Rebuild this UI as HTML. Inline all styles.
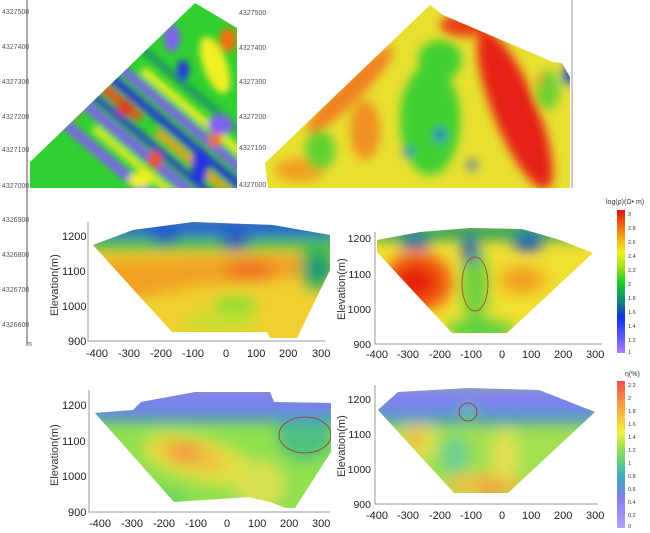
<!DOCTYPE html><html><head><style>body{margin:0;background:#fff}svg{display:block}text{font-family:"Liberation Sans",sans-serif}</style></head><body>
<svg width="650" height="533" viewBox="0 0 650 533">
<defs>
<filter id="b3"><feGaussianBlur stdDeviation="3.5"/></filter>
<filter id="b5"><feGaussianBlur stdDeviation="5"/></filter>
<filter id="b8"><feGaussianBlur stdDeviation="7"/></filter>
<clipPath id="c1"><polygon points="30,162 195,3 237,28 237,188 30,188"/></clipPath>
<clipPath id="c2"><polygon points="265,163 430,5 443,15 553,62 562,63 570,77 570,188 268,188"/></clipPath>
<clipPath id="c3"><polygon points="93,245 133,230 193,222 273,225 330,235 330,270 297,338 270,338 267,332 172,332"/></clipPath>
<clipPath id="c4"><polygon points="377,240 420,232 470,228 522,229 560,240 593,253 507,333 452,333 377,252"/></clipPath>
<clipPath id="c5"><polygon points="95,413 133,410 141,402 195,392 270,392 274,402 331,403 331,452 295,508 286,508 270,502 249,497 174,502"/></clipPath>
<clipPath id="c6"><polygon points="378,410 398,392 469,388 539,390 595,412 508,493 454,493"/></clipPath>
<linearGradient id="g1" x1="0" y1="1" x2="0" y2="0"><stop offset="0" stop-color="#b080ff"/><stop offset=".1" stop-color="#6060ff"/><stop offset=".25" stop-color="#1030e0"/><stop offset=".35" stop-color="#108080"/><stop offset=".5" stop-color="#20d020"/><stop offset=".6" stop-color="#a0e020"/><stop offset=".7" stop-color="#f0f020"/><stop offset=".8" stop-color="#f0b010"/><stop offset=".9" stop-color="#f06010"/><stop offset="1" stop-color="#e01010"/></linearGradient>
<linearGradient id="g2" x1="0" y1="1" x2="0" y2="0"><stop offset="0" stop-color="#b8a0f8"/><stop offset=".2" stop-color="#8080f0"/><stop offset=".35" stop-color="#40a8c0"/><stop offset=".45" stop-color="#60d080"/><stop offset=".55" stop-color="#a0e050"/><stop offset=".65" stop-color="#f0f040"/><stop offset=".8" stop-color="#f8b040"/><stop offset="1" stop-color="#f05050"/></linearGradient>
</defs>
<!-- top left map -->
<g clip-path="url(#c1)"><rect x="0" y="0" width="240" height="190" fill="#30d030"/>
<g filter="url(#b3)">
<g transform="rotate(40 130 100)">
<rect x="-20" y="155" width="300" height="10" fill="#8060f0"/>
<rect x="-20" y="141" width="120" height="9" fill="#f05010"/>
<rect x="120" y="141" width="160" height="7" fill="#f0f020"/>
<rect x="-20" y="127" width="300" height="10" fill="#8060f0"/>
<rect x="-20" y="117" width="300" height="6" fill="#2030e0"/>
<rect x="40" y="103" width="110" height="9" fill="#f05010"/>
<rect x="170" y="103" width="100" height="8" fill="#f0a010"/>
<rect x="-20" y="91" width="300" height="8" fill="#2030e0"/>
<rect x="70" y="77" width="210" height="9" fill="#8060f0"/>
<rect x="120" y="65" width="160" height="8" fill="#f0f020"/>
<rect x="-20" y="50" width="300" height="6" fill="#1a8a70"/>
</g>
<ellipse cx="172" cy="38" rx="8" ry="14" fill="#8060f0"/>
<ellipse cx="183" cy="70" rx="6" ry="10" fill="#2030e0"/>
<ellipse cx="125" cy="108" rx="8" ry="8" fill="#e04010"/>
<ellipse cx="215" cy="65" rx="12" ry="30" transform="rotate(-20 215 65)" fill="#f0f020"/>
<ellipse cx="220" cy="125" rx="12" ry="10" fill="#8060f0"/>
<ellipse cx="155" cy="160" rx="7" ry="9" fill="#f05010"/>
<ellipse cx="200" cy="165" rx="8" ry="18" fill="#2030e0"/>
<ellipse cx="215" cy="140" rx="7" ry="7" fill="#f07010"/>
<ellipse cx="228" cy="40" rx="9" ry="12" fill="#f07010"/>
<ellipse cx="140" cy="180" rx="12" ry="8" fill="#f0f020"/>
</g></g>
<line x1="27" y1="0" x2="27" y2="345" stroke="#555"/>
<g font-size="7" fill="#555"><text x="2" y="14">4327500</text><text x="2" y="49">4327400</text><text x="2" y="84">4327300</text><text x="2" y="119">4327200</text><text x="2" y="152">4327100</text><text x="2" y="188">4327000</text><text x="2" y="222">4326900</text><text x="2" y="257">4326800</text><text x="2" y="292">4326700</text><text x="2" y="327">4326600</text><text x="26" y="346">m</text>
<text x="239" y="15">4327500</text><text x="239" y="50">4327400</text><text x="239" y="84">4327300</text><text x="239" y="119">4327200</text><text x="239" y="150">4327100</text><text x="239" y="187">4327000</text></g>
<!-- top right map -->
<g clip-path="url(#c2)"><rect x="260" y="0" width="320" height="190" fill="#e8e030"/>
<g filter="url(#b5)">
<ellipse cx="350" cy="90" rx="60" ry="12" transform="rotate(-45 350 90)" fill="#f08020"/>
<ellipse cx="365" cy="130" rx="15" ry="30" fill="#f09020"/>
<ellipse cx="300" cy="170" rx="25" ry="12" fill="#f0a020"/>
<ellipse cx="430" cy="120" rx="30" ry="55" fill="#40d030"/>
<ellipse cx="440" cy="60" rx="22" ry="20" fill="#40d030"/>
<ellipse cx="320" cy="150" rx="15" ry="20" fill="#60d030"/>
<ellipse cx="440" cy="135" rx="5" ry="7" fill="#2040e0"/>
<ellipse cx="408" cy="152" rx="4" ry="5" fill="#2040e0"/>
<ellipse cx="472" cy="165" rx="4" ry="5" fill="#2040e0"/>
<ellipse cx="515" cy="110" rx="22" ry="85" transform="rotate(-22 515 110)" fill="#e62015"/>
<ellipse cx="465" cy="25" rx="25" ry="12" fill="#e84018"/>
<ellipse cx="548" cy="90" rx="12" ry="20" fill="#70d030"/>
<ellipse cx="569" cy="75" rx="6" ry="10" fill="#1030e0"/>
<ellipse cx="540" cy="80" rx="4" ry="4" fill="#f06020"/>
</g></g>
<line x1="572" y1="0" x2="572" y2="188" stroke="#999"/>
<!-- mid left -->
<g clip-path="url(#c3)"><rect x="80" y="215" width="260" height="130" fill="#f0d030"/>
<g filter="url(#b8)">
<polygon points="90,260 330,255 330,275 200,285 130,300 110,320" fill="#f0a020"/>
<ellipse cx="250" cy="270" rx="25" ry="10" fill="#f07020"/>
<ellipse cx="235" cy="305" rx="22" ry="9" fill="#90e030"/>
<ellipse cx="220" cy="322" rx="40" ry="8" fill="#c0e030"/>
<ellipse cx="318" cy="268" rx="18" ry="22" fill="#30b060"/>
<ellipse cx="318" cy="268" rx="7" ry="9" fill="#108080"/>
<rect x="80" y="215" width="260" height="22" fill="#2060d0"/>
<rect x="80" y="238" width="260" height="12" fill="#40c040"/>
<ellipse cx="165" cy="238" rx="12" ry="5" fill="#2020d0"/>
<ellipse cx="235" cy="243" rx="15" ry="5" fill="#2020d0"/>
</g></g>
<!-- mid right -->
<g clip-path="url(#c4)"><rect x="370" y="225" width="230" height="110" fill="#f0e030"/>
<g filter="url(#b8)">
<ellipse cx="418" cy="282" rx="35" ry="30" fill="#f06010"/>
<ellipse cx="415" cy="282" rx="22" ry="18" fill="#e82010"/>
<ellipse cx="522" cy="280" rx="25" ry="15" fill="#f0b020"/>
<ellipse cx="522" cy="280" rx="10" ry="6" fill="#f08020"/>
<ellipse cx="475" cy="285" rx="14" ry="38" fill="#70d040"/>
<ellipse cx="480" cy="330" rx="35" ry="10" fill="#50d040"/>
<rect x="370" y="222" width="230" height="18" fill="#30a060"/>
<ellipse cx="470" cy="250" rx="7" ry="14" fill="#2040c0"/>
<ellipse cx="415" cy="243" rx="15" ry="5" fill="#1030d0"/>
<ellipse cx="528" cy="243" rx="15" ry="7" fill="#1030d0"/>
</g>
<ellipse cx="475" cy="284" rx="13" ry="27" fill="none" stroke="#a04030" stroke-width=".8"/></g>
<!-- bottom left -->
<g clip-path="url(#c5)"><rect x="80" y="385" width="260" height="130" fill="#90e050"/>
<g filter="url(#b8)">
<ellipse cx="200" cy="460" rx="60" ry="22" transform="rotate(15 200 460)" fill="#e0e040"/>
<ellipse cx="190" cy="455" rx="35" ry="14" transform="rotate(15 190 455)" fill="#f0c040"/>
<ellipse cx="185" cy="452" rx="15" ry="7" fill="#f09040"/>
<ellipse cx="260" cy="485" rx="25" ry="25" fill="#d8e050"/>
<ellipse cx="305" cy="435" rx="28" ry="25" fill="#50c080"/>
<rect x="80" y="385" width="260" height="25" fill="#8080f0"/>
<rect x="80" y="410" width="260" height="12" fill="#5090d0"/>
<ellipse cx="150" cy="498" rx="40" ry="8" fill="#60d060"/>
</g>
<ellipse cx="305" cy="435" rx="26" ry="18" fill="none" stroke="#a03020" stroke-width=".8"/></g>
<!-- bottom right -->
<g clip-path="url(#c6)"><rect x="370" y="385" width="230" height="115" fill="#a0e050"/>
<g filter="url(#b8)">
<ellipse cx="418" cy="440" rx="18" ry="22" fill="#e0e050"/>
<ellipse cx="415" cy="438" rx="8" ry="10" fill="#f0b040"/>
<ellipse cx="485" cy="485" rx="40" ry="12" fill="#f0c040"/>
<ellipse cx="492" cy="488" rx="14" ry="5" fill="#f09040"/>
<ellipse cx="505" cy="455" rx="15" ry="25" fill="#e0e050"/>
<ellipse cx="455" cy="455" rx="15" ry="20" fill="#70d090"/>
<rect x="370" y="385" width="230" height="25" fill="#8080f0"/>
<rect x="370" y="410" width="230" height="14" fill="#5098c8"/>
<ellipse cx="468" cy="412" rx="8" ry="8" fill="#60c090"/>
</g>
<ellipse cx="468" cy="412" rx="9" ry="9" fill="none" stroke="#a03020" stroke-width=".8"/></g>
<!-- axes -->
<g stroke="#999" fill="none" stroke-width="1">
<polyline points="88,222 88,341 325,341"/><polyline points="375,232 375,344 602,344"/>
<polyline points="89,390 89,512 330,512"/><polyline points="375,385 375,504 598,504"/>
</g>
<g font-size="11" fill="#222">
<text x="62" y="240">1200</text><text x="62" y="275">1100</text><text x="62" y="310">1000</text><text x="68" y="345">900</text>
<text x="86" y="357">-400</text><text x="118" y="357">-300</text><text x="150" y="357">-200</text><text x="182" y="357">-100</text><text x="223" y="357">0</text><text x="247" y="357">100</text><text x="279" y="357">200</text><text x="312" y="357">300</text>
<text x="366" y="358">-400</text><text x="397" y="358">-300</text><text x="429" y="358">-200</text><text x="460" y="358">-100</text><text x="499" y="358">0</text><text x="522" y="358">100</text><text x="554" y="358">200</text><text x="586" y="358">300</text>
<text x="62" y="409">1200</text><text x="62" y="445">1100</text><text x="62" y="480">1000</text><text x="68" y="516">900</text>
<text x="89" y="527">-400</text><text x="121" y="527">-300</text><text x="153" y="527">-200</text><text x="185" y="527">-100</text><text x="224" y="527">0</text><text x="248" y="527">100</text><text x="280" y="527">200</text><text x="312" y="527">300</text>
<text x="366" y="519">-400</text><text x="397" y="519">-300</text><text x="429" y="519">-200</text><text x="460" y="519">-100</text><text x="499" y="519">0</text><text x="522" y="519">100</text><text x="554" y="519">200</text><text x="586" y="519">300</text>
</g>
<g font-size="10.5" fill="#222" text-anchor="end">
<text x="371" y="242">1200</text><text x="371" y="278">1100</text><text x="371" y="313">1000</text><text x="371" y="348">900</text>
<text x="371" y="403">1200</text><text x="371" y="438">1100</text><text x="371" y="473">1000</text><text x="371" y="508">900</text>
</g>
<g font-size="11" fill="#333">
<text transform="translate(58,316) rotate(-90)">Elevation(m)</text>
<text transform="translate(345,320) rotate(-90)">Elevation(m)</text>
<text transform="translate(58,486) rotate(-90)">Elevation(m)</text>
<text transform="translate(345,477) rotate(-90)">Elevation(m)</text>
</g>
<!-- colorbars -->
<text x="606" y="204" font-size="7" fill="#333">log(ρ)(Ω• m)</text>
<rect x="617" y="210" width="8" height="143" fill="url(#g1)"/>
<g font-size="5.5" fill="#333"><text x="628" y="216">3</text><text x="628" y="230">2.8</text><text x="628" y="244">2.6</text><text x="628" y="258">2.4</text><text x="628" y="272">2.2</text><text x="628" y="286">2</text><text x="628" y="300">1.8</text><text x="628" y="314">1.6</text><text x="628" y="328">1.4</text><text x="628" y="342">1.2</text><text x="628" y="354">1</text></g>
<text x="625" y="376" font-size="7" fill="#333">η(%)</text>
<rect x="617" y="381" width="8" height="147" fill="url(#g2)"/>
<g font-size="5.5" fill="#333"><text x="628" y="387">2.2</text><text x="628" y="400">2</text><text x="628" y="413">1.8</text><text x="628" y="426">1.6</text><text x="628" y="439">1.4</text><text x="628" y="452">1.2</text><text x="628" y="465">1</text><text x="628" y="478">0.8</text><text x="628" y="491">0.6</text><text x="628" y="504">0.4</text><text x="628" y="517">0.2</text><text x="628" y="528">0</text></g>
</svg></body></html>
